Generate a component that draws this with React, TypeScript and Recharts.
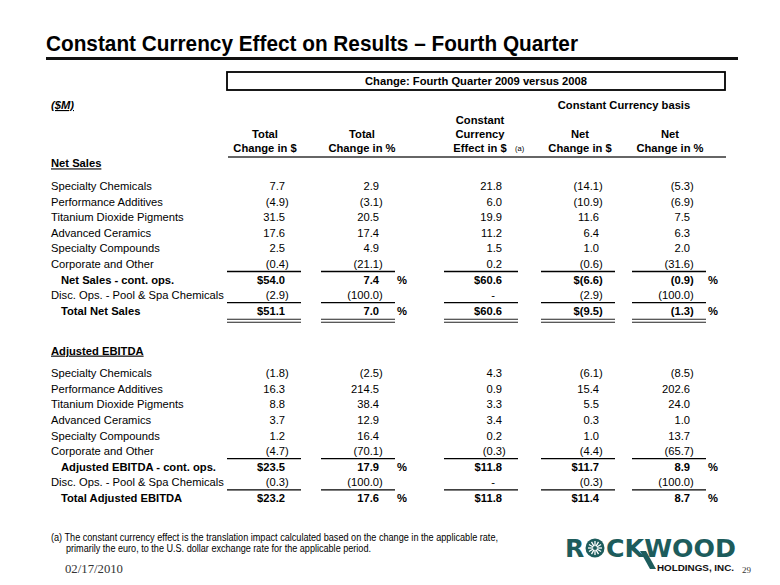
import React from 'react';
import { ComposedChart, Scatter, XAxis, YAxis } from 'recharts';

// ---------- text ----------
const TITLE = 'Constant Currency Effect on Results \u2013 Fourth Quarter';
const BOX_TITLE = 'Change: Fourth Quarter 2009 versus 2008';
const UNIT_LABEL = '($M)';
const BASIS_LABEL = 'Constant Currency basis';
const columnHeaders: string[][] = [
  ['Total', 'Change in $'],
  ['Total', 'Change in %'],
  ['Constant', 'Currency', 'Effect in $'],
  ['Net', 'Change in $'],
  ['Net', 'Change in %'],
];
const columnIsDollar = [true, false, true, true, false];
const FOOTNOTE_1 = '(a) The constant currency effect is the translation impact calculated based on the change in the applicable rate,';
const FOOTNOTE_2 = 'primarily the euro, to the U.S. dollar exchange rate for the applicable period.';
const DATE_TEXT = '02/17/2010';
const PAGE_NUM = '29';

// ---------- rows ----------
const segments = [
  'Specialty Chemicals',
  'Performance Additives',
  'Titanium Dioxide Pigments',
  'Advanced Ceramics',
  'Specialty Compounds',
  'Corporate and Other',
];
const netSalesLabels = [...segments, 'Net Sales - cont. ops.', 'Disc. Ops. - Pool & Spa Chemicals', 'Total Net Sales'];
const ebitdaLabels = [...segments, 'Adjusted EBITDA - cont. ops.', 'Disc. Ops. - Pool & Spa Chemicals', 'Total Adjusted EBITDA'];
const rowKinds = ['item', 'item', 'item', 'item', 'item', 'last', 'subtotal', 'disc', 'total'];

// ---------- Net Sales values ----------
const salesTotalDollar = [7.7, -4.9, 31.5, 17.6, 2.5, -0.4, 54.0, -2.9, 51.1];
const salesTotalPct = [2.9, -3.1, 20.5, 17.4, 4.9, -21.1, 7.4, -100.0, 7.0];
const salesCurrencyEffect = [21.8, 6.0, 19.9, 11.2, 1.5, 0.2, 60.6, 0, 60.6];
const salesNetDollar = [-14.1, -10.9, 11.6, 6.4, 1.0, -0.6, -6.6, -2.9, -9.5];
const salesNetPct = [-5.3, -6.9, 7.5, 6.3, 2.0, -31.6, -0.9, -100.0, -1.3];

// ---------- Adjusted EBITDA values ----------
const ebitdaTotalDollar = [-1.8, 16.3, 8.8, 3.7, 1.2, -4.7, 23.5, -0.3, 23.2];
const ebitdaTotalPct = [-2.5, 214.5, 38.4, 12.9, 16.4, -70.1, 17.9, -100.0, 17.6];
const ebitdaCurrencyEffect = [4.3, 0.9, 3.3, 3.4, 0.2, -0.3, 11.8, 0, 11.8];
const ebitdaNetDollar = [-6.1, 15.4, 5.5, 0.3, 1.0, -4.4, 11.7, -0.3, 11.4];
const ebitdaNetPct = [-8.5, 202.6, 24.0, 1.0, 13.7, -65.7, 8.9, -100.0, 8.7];

// ---------- layout ----------
const W = 780;
const H = 585;
const ROW_PITCH = 15.6;
const FIRST_ROW_CENTER = 170.4;
const COL_RIGHT = [285, 379, 502, 599, 690];
const HEADER_CENTER = [265, 362, 480, 580, 670];
const LABEL_X = 51;
const INDENT_X = 61;
const FONT = "'Liberation Sans', Arial, Helvetica, sans-serif";
const NARROW = "'Liberation Sans Narrow', 'Arial Narrow', 'Liberation Sans', sans-serif";
const SERIF = "'Liberation Serif', 'Times New Roman', serif";
const FS = 11.2;
const TEAL = '#1d5c5c';

type Row = { label: string; kind: string; values?: number[] };

const sectionRows = (title: string, labels: string[], cols: number[][]): Row[] => [
  { label: title, kind: 'section' },
  ...labels.map((label, i) => ({ label, kind: rowKinds[i], values: cols.map((c) => c[i]) })),
];

const tableRows: Row[] = [
  ...sectionRows('Net Sales', netSalesLabels, [salesTotalDollar, salesTotalPct, salesCurrencyEffect, salesNetDollar, salesNetPct]),
  { label: '', kind: 'spacer' },
  { label: '', kind: 'spacer' },
  ...sectionRows('Adjusted EBITDA', ebitdaLabels, [ebitdaTotalDollar, ebitdaTotalPct, ebitdaCurrencyEffect, ebitdaNetDollar, ebitdaNetPct]),
];

const labelPoints = tableRows
  .map((r, i) => ({ x: r.kind === 'subtotal' || r.kind === 'total' ? INDENT_X : LABEL_X, y: i, label: r.label, kind: r.kind }))
  .filter((p) => p.kind !== 'spacer');

const cellPoints = tableRows.flatMap((r, i) =>
  r.values ? r.values.map((v, k) => ({ x: COL_RIGHT[k], y: i, value: v, col: k, kind: r.kind })) : []
);

const LabelShape = (props: any) => {
  const { cx, cy, payload } = props;
  const isSection = payload.kind === 'section';
  const bold = isSection || payload.kind === 'subtotal' || payload.kind === 'total';
  return (
    <text
      x={cx}
      y={cy + 4 + (isSection ? -7 : 0)}
      fontFamily={FONT}
      fontSize={FS}
      fontWeight={bold ? 'bold' : 'normal'}
      textDecoration={isSection ? 'underline' : undefined}
      fill="#000"
    >
      {payload.label}
    </text>
  );
};

const CellShape = (props: any) => {
  const { cx, cy, payload } = props;
  const { value, col, kind } = payload;
  const bold = kind === 'subtotal' || kind === 'total';
  const prefix = bold && columnIsDollar[col] ? '$' : '';
  const showPct = bold && !columnIsDollar[col];
  const base = cy + 4;
  const common = { fontFamily: FONT, fontSize: FS, fontWeight: bold ? 'bold' : 'normal', fill: '#000' } as any;
  const x0 = cx - 58;
  const x1 = cx + 16;
  let body: React.ReactNode;
  if (value === 0) {
    body = (
      <text x={cx - 7} y={base} textAnchor="end" {...common}>-</text>
    );
  } else if (value < 0) {
    body = (
      <>
        <text x={cx} y={base} textAnchor="end" {...common}>{prefix + '(' + Math.abs(value).toFixed(1)}</text>
        <text x={cx} y={base} {...common}>)</text>
      </>
    );
  } else {
    body = (
      <text x={cx} y={base} textAnchor="end" {...common}>{prefix + value.toFixed(1)}</text>
    );
  }
  return (
    <g>
      {body}
      {showPct && (
        <text x={cx + 18} y={base} {...common}>%</text>
      )}
      {(kind === 'last' || kind === 'disc') && (
        <line x1={x0} x2={x1} y1={cy + 7.5} y2={cy + 7.5} stroke="#000" strokeWidth={1.3} />
      )}
      {kind === 'total' && (
        <>
          <line x1={x0} x2={x1} y1={cy + 8.5} y2={cy + 8.5} stroke="#222" strokeWidth={1.1} />
          <line x1={x0} x2={x1} y1={cy + 11.5} y2={cy + 11.5} stroke="#222" strokeWidth={1.1} />
        </>
      )}
    </g>
  );
};

const Overlay = () => (
  <svg width={W} height={H} style={{ position: 'absolute', left: 0, top: 0, pointerEvents: 'none' }}>
    {/* title */}
    <text x={46} y={51} fontFamily={NARROW} fontWeight="bold" fontSize={22} textLength={532} lengthAdjust="spacingAndGlyphs" fill="#000">
      {TITLE}
    </text>
    <line x1={46} x2={738} y1={58.5} y2={58.5} stroke="#111" strokeWidth={2.8} />

    {/* box header */}
    <rect x={227} y={72} width={498} height={18} fill="none" stroke="#000" strokeWidth={1.8} />
    <text x={476} y={85} textAnchor="middle" fontFamily={FONT} fontWeight="bold" fontSize={FS} fill="#000">
      {BOX_TITLE}
    </text>

    <text x={LABEL_X} y={109} fontFamily={FONT} fontWeight="bold" fontStyle="italic" fontSize={FS} textDecoration="underline" fill="#000">
      {UNIT_LABEL}
    </text>
    <text x={624} y={109} textAnchor="middle" fontFamily={FONT} fontWeight="bold" fontSize={FS} fill="#000">
      {BASIS_LABEL}
    </text>

    {columnHeaders.map((lines, k) =>
      lines.map((t, j) => (
        <text
          key={k + '-' + j}
          x={HEADER_CENTER[k]}
          y={152 - (lines.length - 1 - j) * 14}
          textAnchor="middle"
          fontFamily={FONT}
          fontWeight="bold"
          fontSize={FS}
          fill="#000"
        >
          {t}
        </text>
      ))
    )}
    <text x={515} y={151} fontFamily={FONT} fontSize={7.5} fill="#000">(a)</text>
    <line x1={228} x2={726} y1={157} y2={157} stroke="#666" strokeWidth={2} />

    {/* footnote */}
    <text x={51} y={541} fontFamily={NARROW} fontSize={10} textLength={447} lengthAdjust="spacingAndGlyphs" fill="#000">
      {FOOTNOTE_1}
    </text>
    <text x={66} y={552} fontFamily={NARROW} fontSize={10} textLength={305} lengthAdjust="spacingAndGlyphs" fill="#000">
      {FOOTNOTE_2}
    </text>
    <text x={65} y={573} fontFamily={SERIF} fontSize={13} textLength={58} lengthAdjust="spacingAndGlyphs" fill="#333">
      {DATE_TEXT}
    </text>
    <text x={742} y={573} fontFamily={SERIF} fontSize={9} fill="#333">{PAGE_NUM}</text>

    {/* logo */}
    <g>
      <text x={565} y={557} fontFamily="'DejaVu Sans', sans-serif" fontWeight="bold" fontSize={25} fill={TEAL}>R</text>
      <circle cx={595} cy={548} r={9.5} fill={TEAL} />
      {[0, 30, 60, 90, 120, 150].map((a) => {
        const r = (a * Math.PI) / 180;
        return (
          <line key={a} x1={595 - Math.cos(r) * 7} y1={548 - Math.sin(r) * 7} x2={595 + Math.cos(r) * 7} y2={548 + Math.sin(r) * 7} stroke="#fff" strokeWidth={1.3} />
        );
      })}
      <circle cx={595} cy={548} r={2} fill={TEAL} />
      <text x={606} y={557} fontFamily="'DejaVu Sans', sans-serif" fontWeight="bold" fontSize={25} textLength={130} lengthAdjust="spacingAndGlyphs" fill={TEAL}>CKWOOD</text>
      <polygon points="640,551 646,551 656,569 650,569" fill={TEAL} />
      <text x={657} y={571} fontFamily={FONT} fontWeight="bold" fontSize={8.2} textLength={77} lengthAdjust="spacingAndGlyphs" fill="#111">HOLDINGS, INC.</text>
    </g>
  </svg>
);

export default function App() {
  // one empty band above the first row so the section heading is not clipped
  const topMargin = FIRST_ROW_CENTER - 1.5 * ROW_PITCH;
  const bottomMargin = H - topMargin - ROW_PITCH * (tableRows.length + 1);
  return (
    <div style={{ position: 'absolute', left: 0, top: 0, width: W, height: H, background: '#fff' }}>
      <ComposedChart
        width={W}
        height={H}
        margin={{ top: topMargin, right: 0, bottom: bottomMargin, left: 0 }}
        style={{ position: 'absolute', left: 0, top: 0 }}
      >
        <XAxis type="number" dataKey="x" domain={[0, W]} allowDataOverflow hide />
        <YAxis type="number" dataKey="y" domain={[-1.5, tableRows.length - 0.5]} allowDataOverflow reversed hide />
        <Scatter data={labelPoints} shape={LabelShape} isAnimationActive={false} />
        <Scatter data={cellPoints} shape={CellShape} isAnimationActive={false} />
      </ComposedChart>
      <Overlay />
    </div>
  );
}
